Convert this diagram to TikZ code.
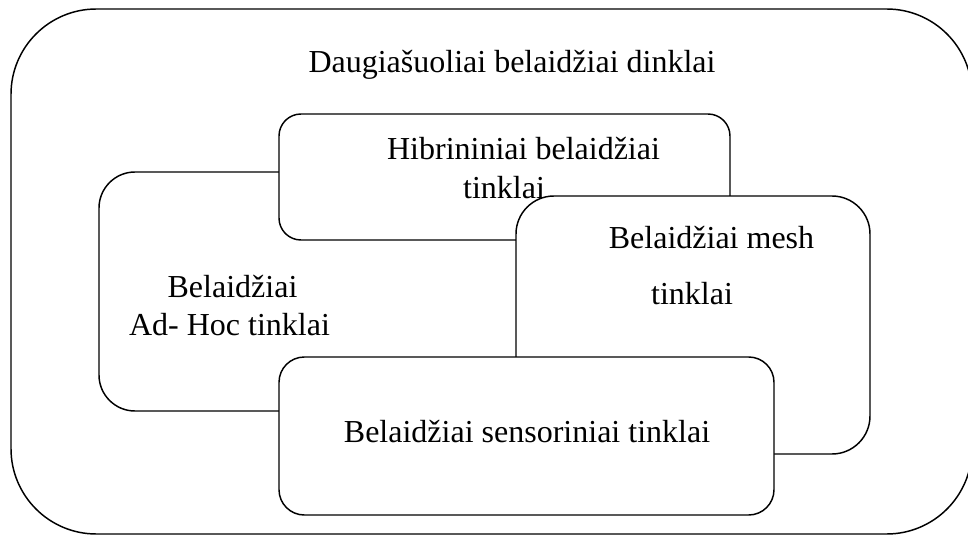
\documentclass[tikz,border=0pt]{standalone}
\usepackage{fontspec}
\setmainfont{Liberation Serif}
\begin{document}
\begin{tikzpicture}[x=0.75pt,y=-0.75pt,
  box/.style={draw=black,line width=1.1pt,fill=white},
  lbl/.style={anchor=base,inner sep=0pt,font=\fontsize{24}{28}\selectfont}]
\useasboundingbox (0,0) rectangle (968,535);
\clip (0,0) rectangle (968,535);
% outer frame
\path[box,rounded corners=64pt] (11,9) rectangle (972,534);
% Ad-Hoc box
\path[box,rounded corners=27pt] (99,172) rectangle (560,411);
% Hybrid box
\path[box,rounded corners=16.5pt] (279,114) rectangle (730,240);
% Mesh box
\path[box,rounded corners=28.5pt] (516,196) rectangle (870,454);
% Sensor box
\path[box,rounded corners=19pt] (279,357) rectangle (774,515);
% texts
\node[lbl] (title) at (512,73) {Daugiašuoliai belaidžiai dinklai};
\node[lbl] (hib1) at (523.5,160) {Hibrininiai belaidžiai};
\node[lbl] (hib2) at (504,198) {tinklai};
\node[lbl] (adh1) at (232.5,297) {Belaidžiai};
\node[lbl] (adh2) at (229.5,335) {Ad- Hoc tinklai};
\node[lbl] (mesh1) at (711.5,248) {Belaidžiai mesh};
\node[lbl] (mesh2) at (692,304) {tinklai};
\node[lbl] (sens) at (527,442) {Belaidžiai sensoriniai tinklai};
\end{tikzpicture}
\end{document}
